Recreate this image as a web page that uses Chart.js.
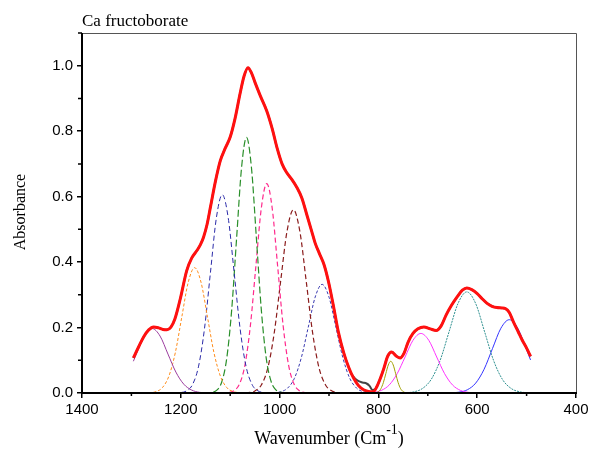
<!DOCTYPE html>
<html>
<head>
<meta charset="utf-8">
<script src="https://cdn.jsdelivr.net/npm/chart.js@4/dist/chart.umd.min.js"></script>
<style>
  html, body { margin: 0; padding: 0; background: #fff; }
  #wrap { width: 595px; height: 453px; }
</style>
</head>
<body>
<div id="wrap"><canvas id="ftir"></canvas></div>
<script>
// tick labels
const xTicks = [1400, 1200, 1000, 800, 600, 400];
const yTicks = [0, 0.2, 0.4, 0.6, 0.8, 1.0];

// fitted envelope (red)
const fitWn = [1296, 1285, 1275, 1265, 1255, 1245, 1236, 1228, 1220, 1212, 1201, 1188, 1178, 1167, 1160, 1154, 1147, 1140, 1130, 1120, 1110, 1100, 1090, 1080, 1072, 1064, 1057, 1050, 1039, 1026, 1015, 1005, 995, 985, 975, 965, 955, 944, 935, 928, 920, 910, 901, 891, 881, 870, 860, 850, 840, 830, 820, 810, 803, 796, 789, 781, 773, 764, 756, 748, 740, 730, 720, 708, 695, 683, 673, 663, 652, 641, 630, 621, 611, 600, 590, 580, 570, 560, 550, 543, 535, 526, 517, 509, 500, 492];
const fitAbs = [0.107, 0.142, 0.172, 0.193, 0.202, 0.199, 0.194, 0.193, 0.201, 0.226, 0.288, 0.374, 0.412, 0.436, 0.454, 0.476, 0.514, 0.568, 0.646, 0.710, 0.748, 0.782, 0.840, 0.915, 0.968, 0.994, 0.978, 0.950, 0.908, 0.862, 0.808, 0.748, 0.700, 0.672, 0.652, 0.628, 0.596, 0.540, 0.494, 0.458, 0.428, 0.392, 0.340, 0.266, 0.186, 0.122, 0.078, 0.045, 0.022, 0.010, 0.005, 0.004, 0.020, 0.045, 0.075, 0.113, 0.125, 0.113, 0.107, 0.122, 0.155, 0.182, 0.196, 0.202, 0.196, 0.191, 0.205, 0.238, 0.268, 0.293, 0.314, 0.321, 0.316, 0.304, 0.288, 0.274, 0.265, 0.261, 0.260, 0.258, 0.246, 0.215, 0.187, 0.162, 0.137, 0.112];

// measured spectrum where it shows apart from the fit
const expWn = [856, 848, 840, 832, 824, 818, 812, 806];
const expAbs = [0.062, 0.045, 0.036, 0.032, 0.029, 0.022, 0.009, 0.012];

// component bands
const p1Wn = [1296, 1290, 1274, 1258, 1242, 1226, 1210, 1194, 1178, 1162, 1146, 1130, 492];
const p1Abs = [0.097, 0.119, 0.174, 0.197, 0.174, 0.119, 0.064, 0.027, 0.009, 0.002, 0.0004, 0, 0];
const p2Wn = [1296, 1276, 1263, 1250, 1237, 1224, 1211, 1198, 1185, 1172, 1159, 1146, 1133, 1120, 1107, 1094, 1081, 1068, 492];
const p2Abs = [0, 0.0001, 0.0008, 0.0043, 0.0168, 0.052, 0.124, 0.232, 0.338, 0.383, 0.338, 0.232, 0.124, 0.052, 0.0168, 0.0043, 0.0008, 0.0001, 0];
const p3Wn = [1296, 1212, 1200, 1188, 1176, 1164, 1152, 1140, 1128, 1116, 1104, 1092, 1080, 1068, 1056, 1044, 1032, 1020, 492];
const p3Abs = [0, 0.0002, 0.0013, 0.0067, 0.0266, 0.082, 0.197, 0.368, 0.535, 0.606, 0.535, 0.368, 0.197, 0.082, 0.0266, 0.0067, 0.0013, 0.0002, 0];
const p4Wn = [1296, 1147, 1137, 1127, 1117, 1107, 1097, 1087, 1077, 1067, 1057, 1047, 1037, 1027, 1017, 1007, 997, 987, 492];
const p4Abs = [0, 0.0002, 0.0017, 0.0087, 0.0343, 0.106, 0.254, 0.474, 0.689, 0.781, 0.689, 0.474, 0.254, 0.106, 0.0343, 0.0087, 0.0017, 0.0002, 0];
const p5Wn = [1296, 1114, 1103, 1092, 1081, 1070, 1059, 1048, 1037, 1026, 1015, 1004, 993, 982, 971, 960, 949, 938, 492];
const p5Abs = [0, 0.0002, 0.0014, 0.0071, 0.0281, 0.0866, 0.208, 0.388, 0.565, 0.640, 0.565, 0.388, 0.208, 0.0866, 0.0281, 0.0071, 0.0014, 0.0002, 0];
const p6Wn = [1296, 1076, 1063, 1050, 1037, 1024, 1011, 998, 985, 972, 959, 946, 933, 920, 907, 894, 881, 868, 492];
const p6Abs = [0, 0.0002, 0.0012, 0.0062, 0.0246, 0.0758, 0.182, 0.340, 0.494, 0.560, 0.494, 0.340, 0.182, 0.0758, 0.0246, 0.0062, 0.0012, 0.0002, 0];
const p7Wn = [1296, 1026, 1012, 998, 984, 970, 956, 942, 928, 914, 900, 886, 872, 858, 844, 830, 816, 802, 492];
const p7Abs = [0, 0.0001, 0.0007, 0.0037, 0.0146, 0.0449, 0.108, 0.201, 0.293, 0.332, 0.293, 0.201, 0.108, 0.0449, 0.0146, 0.0037, 0.0007, 0.0001, 0];
const p8Wn = [1296, 815, 810, 805, 800, 795, 790, 785, 780, 775, 770, 765, 760, 755, 750, 745, 740, 735, 492];
const p8Abs = [0, 0, 0.0002, 0.0011, 0.0043, 0.0131, 0.0315, 0.0588, 0.0856, 0.097, 0.0856, 0.0588, 0.0315, 0.0131, 0.0043, 0.0011, 0.0002, 0, 0];
const p9Wn = [1296, 842, 826, 810, 794, 778, 762, 746, 730, 714, 698, 682, 666, 650, 634, 618, 602, 586, 492];
const p9Abs = [0, 0.0001, 0.0004, 0.002, 0.008, 0.0246, 0.0591, 0.110, 0.161, 0.182, 0.161, 0.110, 0.0591, 0.0246, 0.008, 0.002, 0.0004, 0.0001, 0];
const p10Wn = [1296, 765, 747, 729, 711, 693, 675, 657, 639, 621, 603, 585, 567, 549, 531, 513, 495, 492];
const p10Abs = [0, 0.0001, 0.0007, 0.0034, 0.0136, 0.0418, 0.100, 0.187, 0.273, 0.309, 0.273, 0.187, 0.100, 0.0418, 0.0136, 0.0034, 0.0007, 0.0005];
const p11Wn = [1296, 671, 654, 637, 620, 603, 586, 569, 552, 535, 518, 501, 492];
const p11Abs = [0, 0.0001, 0.0005, 0.0025, 0.0098, 0.0303, 0.0727, 0.136, 0.198, 0.224, 0.198, 0.136, 0.101];

const pts = (xs, ys) => xs.map((x, i) => ({ x: x, y: ys[i] }));

// measured curve = fit everywhere except the little bump near 830
let measured = pts(fitWn, fitAbs).filter(p => p.x < 804 || p.x > 858).concat(pts(expWn, expAbs));
measured.sort((a, b) => b.x - a.x);

const bands = [
  { wn: p1Wn, abs: p1Abs, color: '#9b3c9e', dash: [], width: 1 },
  { wn: p2Wn, abs: p2Abs, color: '#ff8c1a', dash: [3, 2], width: 1 },
  { wn: p3Wn, abs: p3Abs, color: '#2a2aa8', dash: [5, 3], width: 1 },
  { wn: p4Wn, abs: p4Abs, color: '#2a8f2a', dash: [7, 3], width: 1.2 },
  { wn: p5Wn, abs: p5Abs, color: '#ff2a8c', dash: [5, 3], width: 1.2 },
  { wn: p6Wn, abs: p6Abs, color: '#8b1c1c', dash: [5, 3], width: 1.2 },
  { wn: p7Wn, abs: p7Abs, color: '#3a3ab0', dash: [3, 2], width: 1 },
  { wn: p8Wn, abs: p8Abs, color: '#a0a000', dash: [], width: 1 },
  { wn: p9Wn, abs: p9Abs, color: '#ff33ff', dash: [], width: 1 },
  { wn: p10Wn, abs: p10Abs, color: '#2f9090', dash: [2, 1], width: 1 },
  { wn: p11Wn, abs: p11Abs, color: '#3333ff', dash: [], width: 1 }
];

const datasets = [
  { data: pts(fitWn, fitAbs), borderColor: '#ff1010', borderWidth: 3, cubicInterpolationMode: 'monotone' },
  { data: measured, borderColor: '#444', borderWidth: 2, cubicInterpolationMode: 'monotone' }
].concat(bands.map(b => ({
  data: pts(b.wn, b.abs),
  borderColor: b.color,
  borderWidth: b.width,
  borderDash: b.dash,
  cubicInterpolationMode: 'monotone'
})));
datasets.forEach(d => { d.showLine = true; d.pointRadius = 0; d.fill = false; });

// frame, minor ticks and the axis texts
const decor = {
  id: 'decor',
  afterDraw(chart) {
    const { ctx, chartArea: a, scales } = chart;
    const xs = scales.x, ys = scales.y;
    ctx.save();
    ctx.strokeStyle = '#555';
    ctx.lineWidth = 1;
    ctx.beginPath();
    ctx.moveTo(a.left, a.top + 0.5); ctx.lineTo(a.right + 0.5, a.top + 0.5);
    ctx.lineTo(a.right + 0.5, a.bottom);
    ctx.stroke();
    ctx.strokeStyle = '#000';
    ctx.lineWidth = 2;
    ctx.beginPath();
    ctx.moveTo(a.left, a.top); ctx.lineTo(a.left, a.bottom); ctx.lineTo(a.right + 1, a.bottom);
    ctx.stroke();
    // minor ticks
    ctx.lineWidth = 1.5;
    ctx.beginPath();
    for (let v = 1300; v > 400; v -= 200) {
      const px = xs.getPixelForValue(v);
      ctx.moveTo(px, a.bottom); ctx.lineTo(px, a.bottom + 3);
    }
    for (let v = 0.1; v < 1.1; v += 0.2) {
      const py = ys.getPixelForValue(v);
      ctx.moveTo(a.left, py); ctx.lineTo(a.left - 4, py);
    }
    ctx.stroke();
    // texts
    ctx.fillStyle = '#000';
    ctx.font = '17px "Liberation Serif"';
    ctx.textBaseline = 'alphabetic';
    ctx.textAlign = 'left';
    ctx.fillText('Ca fructoborate', a.left, 26);
    ctx.save();
    ctx.font = '16px "Liberation Serif"';
    ctx.translate(25, 212);
    ctx.rotate(-Math.PI / 2);
    ctx.textAlign = 'center';
    ctx.fillText('Absorbance', 0, 0);
    ctx.restore();
    const main = 'Wavenumber (Cm', sup = '-1', tail = ')';
    ctx.font = '18px "Liberation Serif"';
    const w1 = ctx.measureText(main).width, w3 = ctx.measureText(tail).width;
    ctx.font = '14px "Liberation Serif"';
    const w2 = ctx.measureText(sup).width;
    let x0 = (a.left + a.right) / 2 - (w1 + w2 + w3) / 2;
    ctx.font = '18px "Liberation Serif"';
    ctx.fillText(main, x0, 444);
    ctx.font = '14px "Liberation Serif"';
    ctx.fillText(sup, x0 + w1, 434);
    ctx.font = '18px "Liberation Serif"';
    ctx.fillText(tail, x0 + w1 + w2, 444);
    ctx.restore();
  }
};

new Chart(document.getElementById('ftir'), {
  type: 'scatter',
  data: { datasets: datasets },
  options: {
    responsive: true,
    maintainAspectRatio: false,
    animation: false,
    layout: { padding: { top: 33, right: 19, left: 0, bottom: 0 } },
    plugins: { legend: { display: false }, tooltip: { enabled: false } },
    scales: {
      x: {
        type: 'linear',
        reverse: true,
        min: 400,
        max: 1400,
        afterBuildTicks: s => { s.ticks = xTicks.map(v => ({ value: v })); },
        afterFit: s => { s.height = 60; },
        grid: { drawOnChartArea: false, drawTicks: true, tickLength: 5, color: '#000', lineWidth: 1.5 },
        border: { display: false },
        ticks: { color: '#000', font: { family: 'Liberation Sans', size: 15 }, padding: 3, maxRotation: 0, callback: v => String(v) }
      },
      y: {
        type: 'linear',
        min: 0,
        max: 1.1,
        afterBuildTicks: s => { s.ticks = yTicks.map(v => ({ value: v })); },
        afterFit: s => { s.width = 82; },
        grid: { drawOnChartArea: false, drawTicks: true, tickLength: 5, color: '#000', lineWidth: 1.5 },
        border: { display: false },
        ticks: { color: '#000', font: { family: 'Liberation Sans', size: 15 }, padding: 4, callback: v => v.toFixed(1) }
      }
    }
  },
  plugins: [decor]
});
</script>
</body>
</html>
